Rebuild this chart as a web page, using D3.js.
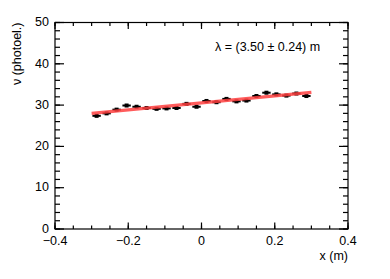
<!DOCTYPE html>
<html>
<head>
<meta charset="utf-8">
<script src="https://cdn.jsdelivr.net/npm/d3@7"></script>
<style>
  body { margin: 0; background: #fff; }
  text { font-family: "Liberation Sans", Arial, sans-serif; fill: #000; }
</style>
</head>
<body>
<div id="vis"></div>
<script>
// bin centres (m) and counts
var binX = [-0.2864, -0.2591, -0.2318, -0.2045, -0.1773, -0.15, -0.1227, -0.0955,
            -0.0682, -0.0409, -0.0136, 0.0136, 0.0409, 0.0682, 0.0955, 0.1227,
            0.15, 0.1773, 0.2045, 0.2318, 0.2591, 0.2864];
var counts = [27.4, 28.0, 28.9, 29.9, 29.6, 29.3, 29.1, 29.2, 29.3, 30.3, 29.6,
              31.0, 30.7, 31.5, 30.9, 31.1, 32.2, 33.0, 32.6, 32.3, 32.8, 32.2];
var errs = 0.3;
// fit line end points
var fitX = [-0.3, 0.3];
var fitY = [28.0, 33.1];

var xTicks = [-0.4, -0.2, 0, 0.2, 0.4];
var yTicks = [0, 10, 20, 30, 40, 50];

var margin = {top: 22.5, right: 42, bottom: 50, left: 55},
    width = 390 - margin.left - margin.right,
    height = 279 - margin.top - margin.bottom;

var svg = d3.select("#vis").append("svg")
    .attr("width", 390)
    .attr("height", 279)
  .append("g")
    .attr("transform", "translate(" + margin.left + "," + margin.top + ")");

var x = d3.scaleLinear().domain([-0.4, 0.4]).range([0, width]);
var y = d3.scaleLinear().domain([0, 50]).range([height, 0]);

var binW = x(0.6 / 22) - x(0);

// data points
var pts = svg.selectAll(".pt")
    .data(binX.map(function(d, i) { return {x: d, y: counts[i]}; }))
    .enter().append("g")
    .attr("class", "pt");

pts.append("line")
    .attr("x1", function(d) { return x(d.x) - binW * 0.42; })
    .attr("x2", function(d) { return x(d.x) + binW * 0.42; })
    .attr("y1", function(d) { return y(d.y); })
    .attr("y2", function(d) { return y(d.y); })
    .style("stroke", "#000")
    .style("stroke-width", 2);

pts.append("line")
    .attr("x1", function(d) { return x(d.x); })
    .attr("x2", function(d) { return x(d.x); })
    .attr("y1", function(d) { return y(d.y - errs); })
    .attr("y2", function(d) { return y(d.y + errs); })
    .style("stroke", "#000")
    .style("stroke-width", 2);

pts.append("rect")
    .attr("x", function(d) { return x(d.x) - 2; })
    .attr("y", function(d) { return y(d.y) - 2; })
    .attr("width", 4)
    .attr("height", 4)
    .style("fill", "#000");

// fit
svg.append("line")
    .attr("x1", x(fitX[0])).attr("y1", y(fitY[0]))
    .attr("x2", x(fitX[1])).attr("y2", y(fitY[1]))
    .style("stroke", "#ff4040")
    .style("stroke-opacity", 0.85)
    .style("stroke-width", 3.2);

// frame
svg.append("rect")
    .attr("width", width)
    .attr("height", height)
    .style("fill", "none")
    .style("stroke", "#000")
    .style("stroke-width", 1.2);

// ticks on all four sides, pointing inwards
var xMinor = d3.range(-0.4, 0.401, 0.05);
var yMinor = d3.range(0, 50.01, 2);

function tickLines(vals, len, horiz) {
  vals.forEach(function(v) {
    if (horiz) {
      svg.append("line").attr("x1", x(v)).attr("x2", x(v))
        .attr("y1", height).attr("y2", height - len)
        .style("stroke", "#000").style("stroke-width", 1.2);
      svg.append("line").attr("x1", x(v)).attr("x2", x(v))
        .attr("y1", 0).attr("y2", len)
        .style("stroke", "#000").style("stroke-width", 1.2);
    } else {
      svg.append("line").attr("y1", y(v)).attr("y2", y(v))
        .attr("x1", 0).attr("x2", len)
        .style("stroke", "#000").style("stroke-width", 1.2);
      svg.append("line").attr("y1", y(v)).attr("y2", y(v))
        .attr("x1", width).attr("x2", width - len)
        .style("stroke", "#000").style("stroke-width", 1.2);
    }
  });
}
tickLines(xMinor, 3.5, true);
tickLines(xTicks, 6.5, true);
tickLines(yMinor, 5, false);
tickLines(yTicks, 9, false);

// tick labels
svg.selectAll(".xl")
    .data(xTicks).enter().append("text")
    .attr("x", function(d) { return x(d); })
    .attr("y", height + 15.5)
    .attr("text-anchor", "middle")
    .style("font-size", "12.5px")
    .text(function(d) { return d3.format("")(d).replace("-", "\u2212"); });

svg.selectAll(".yl")
    .data(yTicks).enter().append("text")
    .attr("x", -6)
    .attr("y", function(d) { return y(d); })
    .attr("dy", "0.3em")
    .attr("text-anchor", "end")
    .style("font-size", "12.5px")
    .text(function(d) { return d; });

// axis titles
svg.append("text")
    .attr("x", width)
    .attr("y", height + 31)
    .attr("text-anchor", "end")
    .style("font-size", "12.5px")
    .text("x (m)");

svg.append("text")
    .attr("transform", "rotate(-90)")
    .attr("x", 0)
    .attr("y", -34)
    .attr("text-anchor", "end")
    .style("font-size", "12.5px")
    .text("\u03bd (photoel.)");

svg.append("text")
    .attr("x", 160)
    .attr("y", 28)
    .style("font-size", "12.5px")
    .text("\u03bb = (3.50 \u00b1 0.24) m");
</script>
</body>
</html>
